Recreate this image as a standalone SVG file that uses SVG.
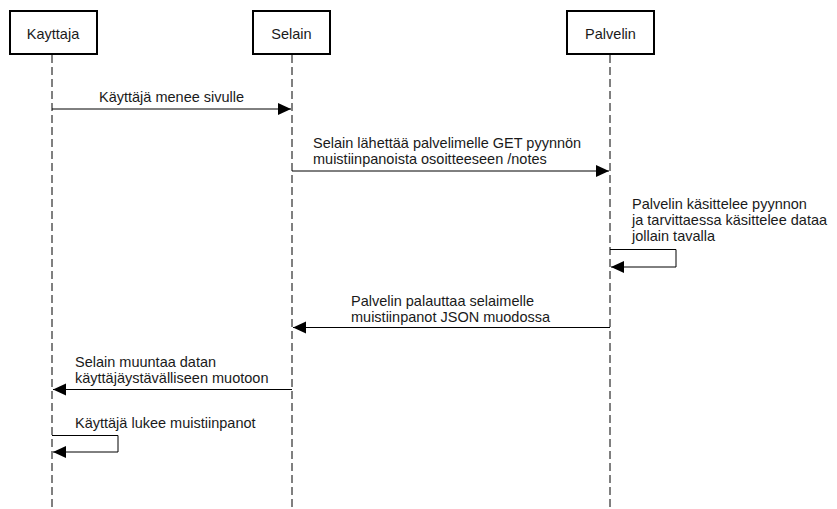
<svg xmlns="http://www.w3.org/2000/svg" width="837" height="509" viewBox="0 0 837 509">
<defs>
<style>
.box{fill:#fff;stroke:#000;stroke-width:2}
.life{stroke:#000;stroke-width:1;stroke-dasharray:8 4;fill:none}
.msg{stroke:#000;stroke-width:1;fill:none}
.t{font-family:"Liberation Sans",Arial,sans-serif;font-size:14.5px;fill:#1a1a1a}
.c{text-anchor:middle}
</style>
<marker id="ah" markerUnits="userSpaceOnUse" markerWidth="14" markerHeight="14" viewBox="0 0 14 14" refX="13" refY="7" orient="auto">
<path d="M0,1 L13,7 L0,13 Z" fill="#000"/>
</marker>
</defs>
<g id="lifelines">
<line class="life" x1="52" y1="55" x2="52" y2="509"/>
<line class="life" x1="292" y1="55" x2="292" y2="509"/>
<line class="life" x1="610" y1="55" x2="610" y2="509"/>
</g>
<g id="kayttaja">
<rect class="box" x="10" y="11" width="87" height="43"/>
<text class="t c" x="53" y="39">Kayttaja</text>
</g>
<g id="selain">
<rect class="box" x="253" y="11" width="77" height="43"/>
<text class="t c" x="291.5" y="39">Selain</text>
</g>
<g id="palvelin">
<rect class="box" x="567" y="11" width="87" height="43"/>
<text class="t c" x="610.5" y="39">Palvelin</text>
</g>
<g id="connectors">
<line class="msg" x1="52" y1="109" x2="291" y2="109" marker-end="url(#ah)"/>
<line class="msg" x1="292" y1="171" x2="609" y2="171" marker-end="url(#ah)"/>
<path class="msg" d="M610,249.5 H676 V267 H611" marker-end="url(#ah)"/>
<line class="msg" x1="610" y1="327.5" x2="293" y2="327.5" marker-end="url(#ah)"/>
<line class="msg" x1="292" y1="389.5" x2="53" y2="389.5" marker-end="url(#ah)"/>
<path class="msg" d="M52,435.5 H118 V452 H53" marker-end="url(#ah)"/>
</g>
<g id="labels">
<text class="t" x="99" y="102">Käyttäjä menee sivulle</text>
<text class="t" x="313" y="148">Selain lähettää palvelimelle GET pyynnön</text>
<text class="t" x="313" y="164">muistiinpanoista osoitteeseen /notes</text>
<text class="t" x="632" y="209">Palvelin käsittelee pyynnon</text>
<text class="t" x="632" y="225">ja tarvittaessa käsittelee dataa</text>
<text class="t" x="632" y="241">jollain tavalla</text>
<text class="t" x="351" y="306">Palvelin palauttaa selaimelle</text>
<text class="t" x="351" y="322">muistiinpanot JSON muodossa</text>
<text class="t" x="75" y="367">Selain muuntaa datan</text>
<text class="t" x="75" y="383">käyttäjäystävälliseen muotoon</text>
<text class="t" x="75" y="428">Käyttäjä lukee muistiinpanot</text>
</g>
</svg>
